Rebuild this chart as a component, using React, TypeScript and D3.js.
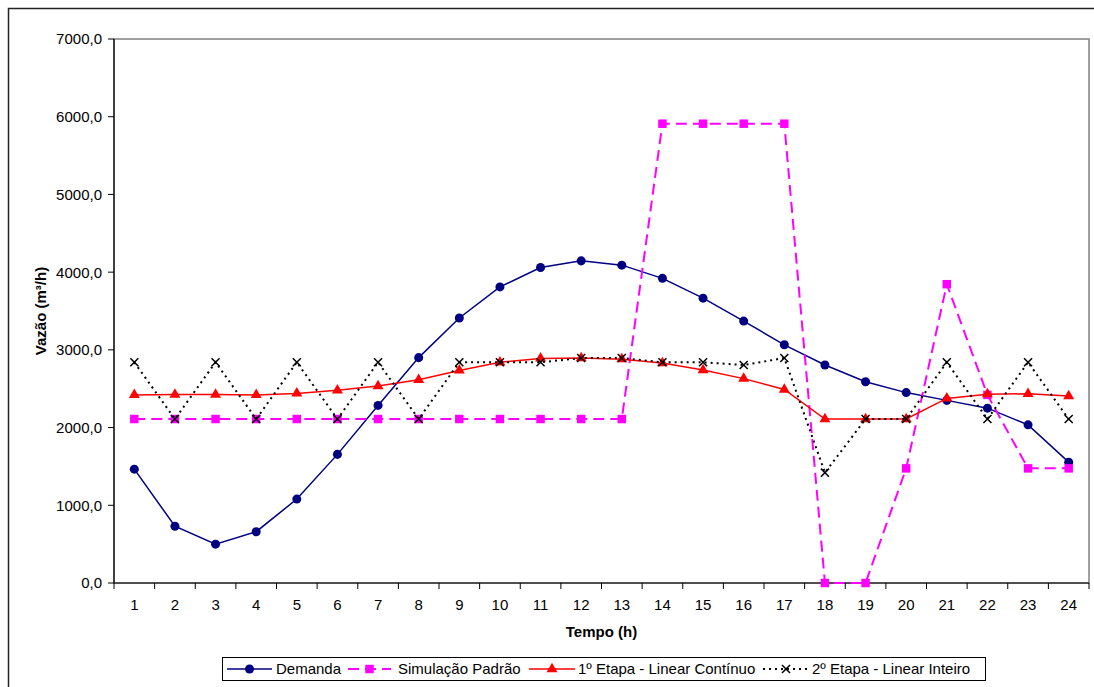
import React from "react";
import * as d3 from "d3";

// horas 1..24
const horas = d3.range(1, 25).map(String);

const demanda = [1465, 730, 500, 660, 1080, 1655, 2285, 2900, 3410, 3810, 4060, 4145, 4090, 3920, 3665, 3370, 3065, 2805, 2590, 2450, 2350, 2250, 2035, 1555];
const simulacaoPadrao = [2110, 2110, 2110, 2110, 2110, 2110, 2110, 2110, 2110, 2110, 2110, 2110, 2110, 5910, 5910, 5910, 5910, 0, 0, 1475, 3845, 2420, 1475, 1475];
const etapa1 = [2420, 2425, 2425, 2420, 2440, 2480, 2535, 2615, 2735, 2840, 2890, 2895, 2880, 2830, 2740, 2630, 2490, 2110, 2110, 2110, 2375, 2430, 2435, 2405];
const etapa2 = [2840, 2110, 2840, 2110, 2840, 2110, 2840, 2110, 2840, 2840, 2840, 2895, 2895, 2840, 2840, 2805, 2895, 1420, 2110, 2110, 2840, 2110, 2840, 2110];

const yTicks = [0, 1000, 2000, 3000, 4000, 5000, 6000, 7000];

const series = [
  { name: "Demanda", values: demanda, color: "#000080", dash: "none", width: 1.5, symbol: d3.symbolCircle, size: 64, fill: true },
  { name: "Simulação Padrão", values: simulacaoPadrao, color: "#FF00FF", dash: "11,6", width: 2, symbol: d3.symbolSquare, size: 72, fill: true },
  { name: "1º Etapa - Linear Contínuo", values: etapa1, color: "#FF0000", dash: "none", width: 1.5, symbol: d3.symbolTriangle, size: 52, fill: true },
  { name: "2º Etapa - Linear Inteiro", values: etapa2, color: "#000000", dash: "2,4", width: 2, symbol: d3.symbolX, size: 44, fill: false },
];

const locale = d3.formatLocale({ decimal: ",", thousands: "", grouping: [3], currency: ["R$", ""] });
const fmt = locale.format(".1f");

const font = "'Liberation Sans', Arial, sans-serif";

export default function App() {
  const left = 114, right = 1089, top = 39, bottom = 583;

  const xBand = d3.scaleBand().domain(horas).range([left, right]);
  const x = (i: number) => xBand(horas[i])! + xBand.bandwidth() / 2;
  const y = d3.scaleLinear().domain([0, 7000]).range([bottom, top]);

  const line = d3.line<number>().x((_, i) => x(i)).y((d) => y(d));

  const legendItems = [
    { s: series[0], x0: 227, x1: 272, tx: 276 },
    { s: series[1], x0: 348, x1: 391, tx: 398 },
    { s: series[2], x0: 529, x1: 575, tx: 578 },
    { s: series[3], x0: 763, x1: 809, tx: 812 },
  ];

  return (
    <svg width={1094} height={687} style={{ position: "absolute", left: 0, top: 0, background: "#fff" }} fontFamily={font}>
      {/* moldura externa */}
      <rect x={8.5} y={8.5} width={1100} height={700} fill="none" stroke="#222" strokeWidth={1.5} />

      {/* area do grafico */}
      <rect x={left} y={top} width={right - left} height={bottom - top} fill="#fff" stroke="#808080" strokeWidth={1.5} />

      {/* eixo Y */}
      <line x1={left} x2={left} y1={top} y2={bottom} stroke="#000" strokeWidth={1.2} />
      {yTicks.map((t) => (
        <g key={t}>
          <line x1={left - 6} x2={left} y1={y(t)} y2={y(t)} stroke="#000" />
          <text x={102} y={y(t)} dy="0.36em" textAnchor="end" fontSize={15}>{fmt(t)}</text>
        </g>
      ))}

      {/* eixo X */}
      <line x1={left} x2={right} y1={bottom} y2={bottom} stroke="#000" strokeWidth={1.2} />
      {horas.map((h, i) => (
        <g key={h}>
          <line x1={xBand(h)} x2={xBand(h)} y1={bottom} y2={bottom + 6} stroke="#000" />
          <text x={x(i)} y={610} textAnchor="middle" fontSize={15}>{h}</text>
        </g>
      ))}
      <line x1={right} x2={right} y1={bottom} y2={bottom + 6} stroke="#000" />

      <text x={(left + right) / 2} y={637} textAnchor="middle" fontSize={15} fontWeight="bold">Tempo (h)</text>
      <text transform={`translate(46, ${(top + bottom) / 2}) rotate(-90)`} textAnchor="middle" fontSize={15} fontWeight="bold">Vazão (m³/h)</text>

      {/* series */}
      {series.map((s) => (
        <g key={s.name}>
          <path d={line(s.values)!} fill="none" stroke={s.color} strokeWidth={s.width} strokeDasharray={s.dash} />
          {s.values.map((v, i) => (
            <path
              key={i}
              transform={`translate(${x(i)},${y(v)})`}
              d={d3.symbol(s.symbol, s.size)()!}
              fill={s.fill ? s.color : "none"}
              stroke={s.color}
              strokeWidth={s.fill ? 0 : 1.5}
            />
          ))}
        </g>
      ))}

      {/* legenda */}
      <rect x={222.5} y={657.5} width={763} height={23} fill="#fff" stroke="#000" strokeWidth={1} />
      {legendItems.map(({ s, x0, x1, tx }) => (
        <g key={s.name}>
          <line x1={x0} x2={x1} y1={669} y2={669} stroke={s.color} strokeWidth={s.width} strokeDasharray={s.dash} />
          <path
            transform={`translate(${(x0 + x1) / 2},669)`}
            d={d3.symbol(s.symbol, s.size)()!}
            fill={s.fill ? s.color : "none"}
            stroke={s.color}
            strokeWidth={s.fill ? 0 : 1.5}
          />
          <text x={tx} y={674} fontSize={15}>{s.name}</text>
        </g>
      ))}
    </svg>
  );
}
